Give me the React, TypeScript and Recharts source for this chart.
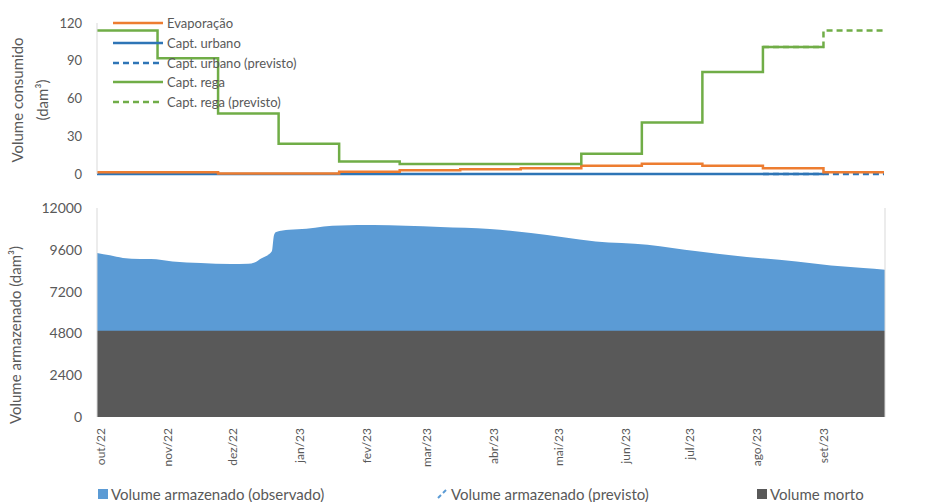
import React from "react";
import {
  LineChart,
  Line,
  ComposedChart,
  Area,
  XAxis,
  YAxis,
  Legend,
} from "recharts";

const FONT = "Lato, 'Liberation Sans', sans-serif";
const TEXT = "#595959";
const AXIS = "#d9d9d9";

// top chart: monthly consumption (dam3), one value per step
const evaporacao = [1.3, 1.3, 0.4, 0.4, 1.8, 2.9, 3.7, 4.5, 6.6, 8.2, 6.6, 4.5, 1.4];
const captUrbano = [0, 0, 0, 0, 0, 0, 0, 0, 0, 0, 0, 0, null];
const captUrbanoPrevisto = [null, null, null, null, null, null, null, null, null, null, null, 0, 0];
const captRega = [114, 92, 48, 24, 10, 8, 8, 8, 16, 41, 81, 101, null];
const captRegaPrevisto = [null, null, null, null, null, null, null, null, null, null, null, 101, 114];
const consumoTicks = [0, 30, 60, 90, 120];

// bottom chart: stored volume (dam3), by day since 1 Oct 2022
const volumeDias = [0, 6, 12, 20, 25, 35, 48, 62, 70, 73, 76, 81, 82, 83, 89, 97, 105, 113, 128, 143, 159, 182, 201, 231, 255, 278, 301, 324, 340, 355, 365];
const volumeObservado = [9420, 9280, 9130, 9070, 9070, 8930, 8840, 8785, 8800, 8870, 9100, 9510, 10450, 10620, 10750, 10810, 10940, 11000, 11020, 10980, 10910, 10790, 10565, 10080, 9890, 9510, 9190, 8930, 8700, 8555, 8460];
const volumeMorto = 4950;
const volumeTicks = [0, 2400, 4800, 7200, 9600, 12000];
const pctTicks = [0, 0.03, 0.06, 0.09, 0.12];
const mesDias = [0, 31, 61, 92, 123, 151, 182, 212, 243, 273, 304, 335];
const mesLabels = ["out/22", "nov/22", "dez/22", "jan/23", "fev/23", "mar/23", "abr/23", "mai/23", "jun/23", "jul/23", "ago/23", "set/23"];

const COLORS = {
  evap: "#ED7D31",
  urbano: "#2E75B6",
  rega: "#70AD47",
  observado: "#5B9BD5",
  morto: "#595959",
};

const SERIES = [
  { key: "evap", name: "Evaporação", color: COLORS.evap, arr: evaporacao, dash: undefined },
  { key: "urb", name: "Capt. urbano", color: COLORS.urbano, arr: captUrbano, dash: undefined },
  { key: "urbPrev", name: "Capt. urbano (previsto)", color: COLORS.urbano, arr: captUrbanoPrevisto, dash: "6 4" },
  { key: "rega", name: "Capt. rega", color: COLORS.rega, arr: captRega, dash: undefined },
  { key: "regaPrev", name: "Capt. rega (previsto)", color: COLORS.rega, arr: captRegaPrevisto, dash: "6 4" },
];

// extra row closes the last step of every series
const stepVal = (arr: (number | null)[], i: number) => arr[i] ?? arr[i - 1] ?? null;
const consumoData = Array.from({ length: evaporacao.length + 1 }, (_, i) => {
  const row: Record<string, number | null> = { i };
  SERIES.forEach((s) => (row[s.key] = stepVal(s.arr, i)));
  return row;
});

const volumeData = volumeDias.map((d, i) => ({
  day: d,
  vol: volumeObservado[i],
  morto: volumeMorto,
}));

// zero-height box so the legend takes no room from the plot
function TopLegend() {
  return (
    <div style={{ position: "relative", width: 220, height: 0, fontFamily: FONT }}>
      {SERIES.map((s, idx) => (
        <div
          key={s.key}
          style={{ position: "absolute", left: 0, top: idx * 19.8, height: 20, display: "flex", alignItems: "center" }}
        >
          <svg width={52} height={6}>
            <line x1={0} x2={50} y1={3} y2={3} stroke={s.color} strokeWidth={2.5} strokeDasharray={s.dash} />
          </svg>
          <span style={{ fontSize: 13, color: TEXT, marginLeft: 2, whiteSpace: "nowrap" }}>{s.name}</span>
        </div>
      ))}
    </div>
  );
}

function BottomLegend() {
  const item = { position: "absolute" as const, top: 3, display: "flex", alignItems: "center", whiteSpace: "nowrap" as const };
  const label = { fontSize: 15, color: TEXT, marginLeft: 3 };
  return (
    <div style={{ position: "relative", width: 931, height: 20, fontFamily: FONT }}>
      <div style={{ ...item, left: 98 }}>
        <span style={{ width: 10, height: 10, background: COLORS.observado, display: "inline-block" }} />
        <span style={label}>Volume armazenado (observado)</span>
      </div>
      <div style={{ ...item, left: 437 }}>
        <svg width={11} height={10}>
          <line x1={1} y1={9} x2={4} y2={6} stroke={COLORS.observado} strokeWidth={2} />
          <line x1={6} y1={4} x2={9} y2={1} stroke={COLORS.observado} strokeWidth={2} />
        </svg>
        <span style={label}>Volume armazenado (previsto)</span>
      </div>
      <div style={{ ...item, left: 757 }}>
        <span style={{ width: 10, height: 10, background: COLORS.morto, display: "inline-block" }} />
        <span style={label}>Volume morto</span>
      </div>
    </div>
  );
}

function MonthTick(props: any) {
  const { x, y, payload } = props;
  const idx = mesDias.indexOf(payload.value);
  return (
    <text
      transform={`translate(${x},${y + 3}) rotate(-90)`}
      textAnchor="end"
      x={0}
      y={8}
      fill={TEXT}
      fontSize={12}
      fontFamily={FONT}
    >
      {mesLabels[idx]}
    </text>
  );
}

export default function App() {
  return (
    <div style={{ position: "absolute", left: 0, top: 0, width: 931, height: 502, overflow: "hidden", background: "#fff" }}>
      <div style={{ position: "absolute", left: 0, top: 0 }}>
        <LineChart width={931} height={190} data={consumoData} margin={{ top: 23, right: 47, left: 0, bottom: 16 }}>
          <XAxis dataKey="i" type="number" domain={[0, 13]} hide />
          <YAxis
            width={97}
            domain={[0, 120]}
            ticks={consumoTicks}
            interval={0}
            axisLine={{ stroke: AXIS }}
            tickLine={false}
            tickMargin={9}
            tick={{ fill: TEXT, fontSize: 13, fontFamily: FONT }}
          />
          <Legend
            layout="horizontal"
            verticalAlign="top"
            align="left"
            content={() => <TopLegend />}
            wrapperStyle={{ left: 113, top: 13, width: 220, height: 0 }}
          />
          {[SERIES[1], SERIES[2], SERIES[0], SERIES[3], SERIES[4]].map((s) => (
            <Line
              key={s.key}
              type="stepAfter"
              dataKey={s.key}
              name={s.name}
              stroke={s.color}
              strokeWidth={2.5}
              strokeDasharray={s.dash}
              dot={false}
              activeDot={false}
              connectNulls={false}
              isAnimationActive={false}
            />
          ))}
        </LineChart>
        <svg style={{ position: "absolute", left: 0, top: 0 }} width={60} height={190}>
          <text transform="translate(0,100) rotate(-90)" textAnchor="middle" fill={TEXT} fontSize={15} fontFamily={FONT}>
            <tspan x={0} y={23}>Volume consumido</tspan>
            <tspan x={0} y={48}>(dam³)</tspan>
          </text>
        </svg>
      </div>
      <div style={{ position: "absolute", left: 0, top: 190 }}>
        <ComposedChart width={931} height={312} data={volumeData} margin={{ top: 18, right: 0, left: 0, bottom: 0 }}>
          <XAxis
            dataKey="day"
            type="number"
            domain={[0, 365]}
            ticks={mesDias}
            interval={0}
            height={65}
            axisLine={false}
            tickLine={false}
            tick={<MonthTick />}
          />
          <YAxis
            yAxisId="vol"
            width={97}
            domain={[0, 12000]}
            ticks={volumeTicks}
            interval={0}
            axisLine={{ stroke: AXIS }}
            tickLine={false}
            tickMargin={9}
            tick={{ fill: TEXT, fontSize: 14, fontFamily: FONT }}
          />
          <YAxis
            yAxisId="pct"
            orientation="right"
            width={46}
            domain={[0, 0.12]}
            ticks={pctTicks}
            interval={0}
            axisLine={{ stroke: AXIS }}
            tickLine={{ stroke: AXIS }}
            tickSize={6}
            tickMargin={10}
            tickFormatter={(v: number) => `${Math.round(v * 100)}%`}
            tick={{ fill: TEXT, fontSize: 14, fontFamily: FONT }}
          />
          <Legend verticalAlign="bottom" content={() => <BottomLegend />} wrapperStyle={{ left: 0, bottom: 0, width: 931 }} />
          <Area
            yAxisId="vol"
            type="monotone"
            dataKey="vol"
            name="Volume armazenado (observado)"
            stroke="none"
            fill={COLORS.observado}
            fillOpacity={1}
            isAnimationActive={false}
            activeDot={false}
          />
          <Area
            yAxisId="vol"
            type="linear"
            dataKey="morto"
            name="Volume morto"
            stroke="none"
            fill={COLORS.morto}
            fillOpacity={1}
            isAnimationActive={false}
            activeDot={false}
          />
        </ComposedChart>
        <svg style={{ position: "absolute", left: 0, top: 0 }} width={40} height={312}>
          <text transform="translate(0,145) rotate(-90)" textAnchor="middle" fill={TEXT} fontSize={15} fontFamily={FONT}>
            <tspan x={0} y={21}>Volume armazenado (dam³)</tspan>
          </text>
        </svg>
      </div>
    </div>
  );
}
